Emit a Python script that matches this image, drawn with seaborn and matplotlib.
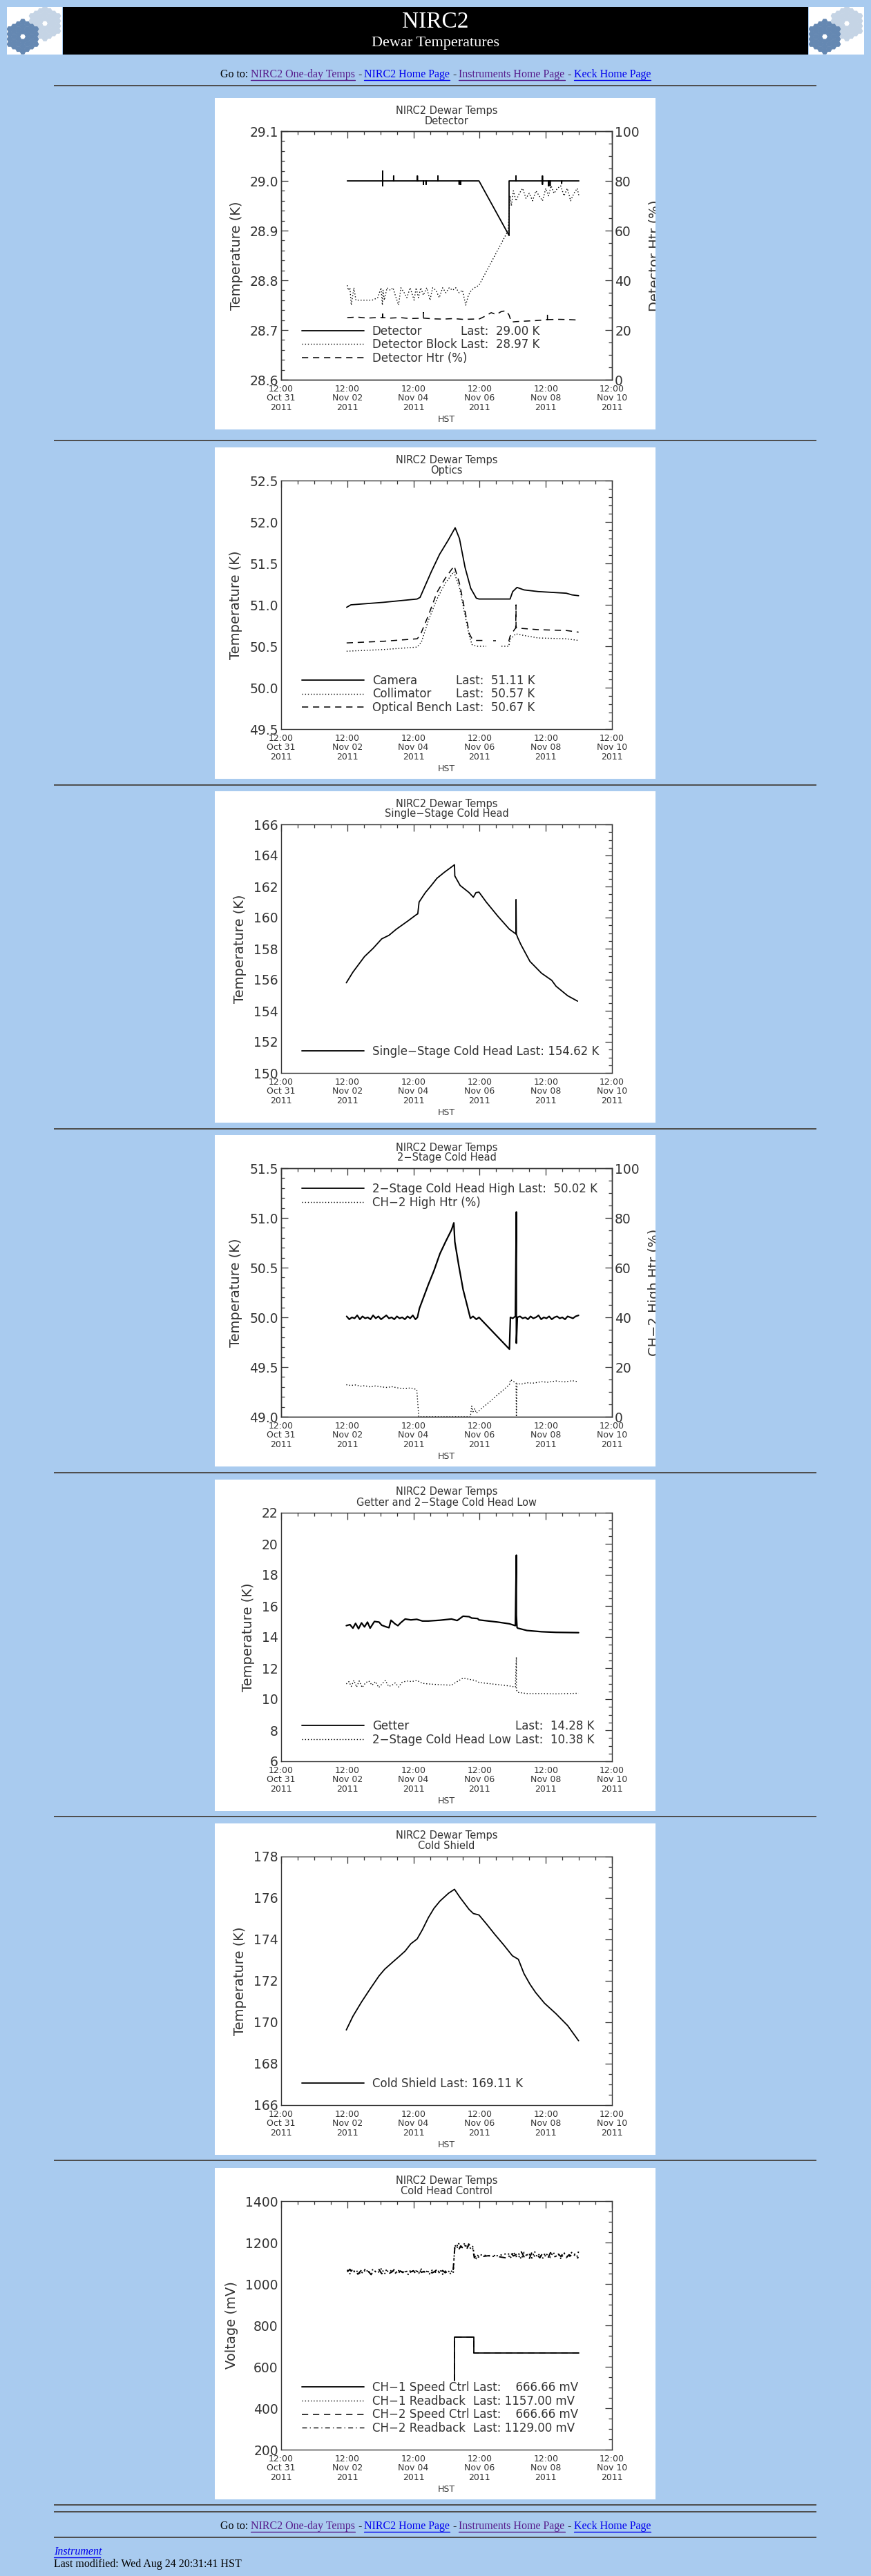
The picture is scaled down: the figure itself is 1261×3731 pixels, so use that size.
# %%
# NIRC2 dewar temperature page - seven weekly trend panels on a web-page layout
import numpy as np
import pandas as pd
import seaborn as sns
import matplotlib.pyplot as plt
from matplotlib.lines import Line2D
from matplotlib.patches import Rectangle, RegularPolygon
from matplotlib.ticker import MultipleLocator, AutoMinorLocator, FormatStrFormatter
from matplotlib.transforms import Bbox, TransformedBbox

sns.set_style('white')
plt.rcParams['font.family'] = ['DejaVu Sans']

W, H, DPI = 1261, 3731, 100
PAGE_BG = '#a9cbef'
INK = '#333333'
VISITED = '#551a8b'
LINK = '#0000ee'
SERIF = 'Liberation Serif'

# %%
# Time axis: days after 12:00 Oct 31 2011 (HST)
t0 = pd.Timestamp('2011-10-31 12:00')
tick_dates = pd.date_range(t0, periods=6, freq='2D')
tick_days = list((tick_dates - t0) / pd.Timedelta(days=1))
tick_labels = [d.strftime('%H:%M\n%b %d\n%Y') for d in tick_dates]

# %%
# Detector panel (K on the left, heater % on the right)
det_t = [2.00, 3.07, 3.07, 3.07, 3.07, 3.40, 3.40, 3.40, 4.12, 4.12, 4.12,
         4.30, 4.30, 4.30, 4.38, 4.38, 4.38, 4.74, 4.74, 4.74,
         5.38, 5.38, 5.38, 5.43, 5.43, 5.43, 5.98, 6.89, 6.89,
         7.10, 7.10, 7.10, 7.90, 7.90, 7.90, 7.90,
         8.08, 8.08, 8.08, 8.13, 8.13, 8.13, 8.48, 8.48, 8.48, 9.00]
det_k = [29.00, 29.00, 29.02, 28.99, 29.00, 29.00, 29.01, 29.00, 29.00, 29.01, 29.00,
         29.00, 28.993, 29.00, 29.00, 28.993, 29.00, 29.00, 29.01, 29.00,
         29.00, 28.993, 29.00, 29.00, 28.993, 29.00, 29.00, 28.89, 29.00,
         29.00, 29.01, 29.00, 29.00, 29.01, 28.993, 29.00,
         29.00, 28.99, 29.00, 29.00, 28.99, 29.00, 29.00, 28.995, 29.00, 29.00]
blk_t = [2.00, 2.03, 2.08, 2.12, 2.20, 2.26, 2.40, 2.60, 2.75, 2.92,
         3.02, 3.06, 3.08, 3.12, 3.20, 3.30, 3.38, 3.45, 3.55, 3.62,
         3.72, 3.80, 3.90, 4.02, 4.08, 4.15, 4.22, 4.30, 4.40, 4.50,
         4.58, 4.68, 4.78, 4.88, 4.98, 5.08, 5.18, 5.28, 5.38, 5.48,
         5.58, 5.66, 5.75, 5.85, 5.98, 6.86, 6.92, 6.96, 7.02, 7.10,
         7.20, 7.30, 7.40, 7.50, 7.60, 7.70, 7.80, 7.90, 8.00, 8.08,
         8.16, 8.25, 8.35, 8.45, 8.55, 8.65, 8.75, 8.85, 8.95, 9.00]
blk_k = [28.79, 28.78, 28.785, 28.75, 28.785, 28.76, 28.76, 28.76, 28.76, 28.765,
         28.785, 28.75, 28.78, 28.76, 28.785, 28.78, 28.785, 28.77, 28.75, 28.785,
         28.775, 28.765, 28.785, 28.76, 28.785, 28.765, 28.785, 28.77, 28.785, 28.76,
         28.785, 28.78, 28.765, 28.785, 28.775, 28.785, 28.78, 28.785, 28.775, 28.78,
         28.75, 28.77, 28.78, 28.785, 28.79, 28.90, 28.97, 28.95, 28.98, 28.96,
         28.975, 28.985, 28.965, 28.975, 28.96, 28.98, 28.97, 28.96, 28.985, 28.97,
         28.99, 28.975, 28.985, 28.99, 28.97, 28.985, 28.96, 28.975, 28.985, 28.97]
dhtr_t = [2.00, 2.30, 2.60, 2.90, 3.07, 3.07, 3.07, 3.30, 3.60, 3.90,
          4.30, 4.30, 4.30, 4.60, 4.90, 5.20, 5.50, 5.80, 6.00, 6.20,
          6.35, 6.50, 6.65, 6.80, 6.89, 6.96, 7.10, 7.40, 7.70, 7.90,
          8.05, 8.05, 8.05, 8.40, 8.70, 9.00]
dhtr_p = [25.0, 25.2, 24.8, 25.0, 25.0, 27.5, 25.0, 24.8, 25.0, 24.6,
          24.8, 27.0, 24.8, 24.5, 24.4, 24.6, 24.3, 24.4, 24.5, 25.8,
          27.0, 26.2, 27.4, 27.8, 26.0, 23.2, 23.4, 23.6, 23.8, 24.0,
          24.2, 26.2, 24.2, 24.3, 24.2, 24.0]

# Optics panel
cam_t = [1.98, 2.11, 3.09, 4.11, 4.20, 4.32, 4.54, 4.79, 5.05, 5.26,
         5.39, 5.56, 5.73, 5.90, 5.98, 6.92, 7.00, 7.13, 7.34, 7.77,
         8.62, 8.79, 8.99]
cam_k = [50.97, 51.00, 51.03, 51.07, 51.09, 51.20, 51.40, 51.61, 51.78, 51.93,
         51.80, 51.45, 51.20, 51.08, 51.07, 51.07, 51.16, 51.21, 51.18, 51.16,
         51.14, 51.12, 51.11]
col_t = [1.98, 3.09, 4.11, 4.24, 4.45, 4.71, 4.96, 5.22, 5.39, 5.56,
         5.69, 5.77, 5.90, 6.20, 6.66, 6.88, 6.92, 7.09, 7.34, 7.77,
         8.62, 8.99]
col_k = [50.44, 50.46, 50.49, 50.55, 50.81, 51.07, 51.26, 51.40, 51.21, 50.87,
         50.62, 50.52, 50.50, 50.50, 50.50, 50.50, 50.58, 50.65, 50.63, 50.60,
         50.59, 50.57]
col_seg = [0] * 14 + [1] * 8
ben_t = [1.98, 3.09, 4.11, 4.20, 4.45, 4.71, 4.96, 5.23, 5.39, 5.56,
         5.69, 5.77, 5.90, 6.20, 6.41, 6.49, 6.88, 6.92, 7.05, 7.09,
         7.10, 7.10, 7.12, 7.77, 8.62, 8.99]
ben_k = [50.54, 50.56, 50.59, 50.63, 50.87, 51.15, 51.32, 51.47, 51.26, 50.92,
         50.65, 50.59, 50.57, 50.57, 50.57, 50.57, 50.56, 50.62, 50.70, 50.72,
         51.00, 50.74, 50.72, 50.70, 50.69, 50.67]
ben_seg = [0] * 14 + [1] * 2 + [2] * 10

# Single-stage cold head
ss_t = [1.97, 2.17, 2.52, 2.78, 3.04, 3.26, 3.48, 3.83, 4.10, 4.13,
        4.17, 4.36, 4.54, 4.71, 4.93, 5.24, 5.25, 5.41, 5.68, 5.81,
        5.89, 5.98, 6.20, 6.55, 6.90, 7.10, 7.10, 7.11, 7.15, 7.25,
        7.52, 7.87, 8.18, 8.31, 8.66, 8.96]
ss_k = [155.80, 156.49, 157.49, 158.02, 158.63, 158.86, 159.25, 159.78, 160.21, 160.24,
        161.00, 161.61, 162.07, 162.53, 162.91, 163.40, 162.68, 162.07, 161.61, 161.31,
        161.61, 161.64, 161.00, 160.09, 159.25, 158.94, 161.16, 158.94, 158.71, 158.25,
        157.18, 156.42, 155.96, 155.58, 154.97, 154.62]

# 2-stage cold head high (K) and its heater (%)
hi_t = [1.98, 2.06, 2.14, 2.22, 2.30, 2.38, 2.46, 2.54, 2.62, 2.70,
        2.78, 2.86, 2.94, 3.02, 3.10, 3.18, 3.26, 3.34, 3.42, 3.50,
        3.58, 3.66, 3.74, 3.82, 3.90, 3.98, 4.06, 4.12,
        4.18, 4.27, 4.45, 4.62, 4.80, 4.97, 5.15, 5.22, 5.25, 5.37,
        5.50, 5.63, 5.72, 5.80, 5.90, 5.98, 6.90, 6.93,
        7.00, 7.08, 7.11, 7.11, 7.14, 7.22, 7.30, 7.38, 7.46, 7.54,
        7.62, 7.70, 7.78, 7.86, 7.94, 8.02, 8.10, 8.18, 8.26, 8.34,
        8.42, 8.50, 8.58, 8.66, 8.74, 8.82, 8.90, 8.99]
hi_k = [50.01, 49.98, 50.00, 49.99, 50.02, 49.98, 50.01, 49.99, 50.00, 49.98,
        50.02, 49.99, 50.01, 49.98, 50.00, 50.02, 49.99, 50.00, 49.98, 50.01,
        49.99, 50.00, 49.98, 50.01, 49.99, 50.02, 49.98, 50.00,
        50.09, 50.17, 50.33, 50.47, 50.64, 50.76, 50.88, 50.95, 50.76, 50.52,
        50.28, 50.11, 49.99, 50.01, 49.98, 50.00, 49.68, 50.00,
        49.99, 50.01, 51.06, 49.74, 50.00, 50.01, 49.99, 50.00, 49.98, 50.01,
        49.99, 50.00, 50.02, 49.98, 50.00, 49.99, 50.01, 49.98, 50.00, 50.01,
        49.99, 50.00, 49.98, 50.01, 50.00, 49.99, 50.01, 50.02]
ch2h_t = [1.97, 2.10, 2.25, 2.40, 2.52, 2.70, 2.85, 3.04, 3.20, 3.35,
          3.57, 3.75, 3.90, 4.10, 4.16, 5.72, 5.76, 5.80, 5.85, 5.90,
          5.98, 6.90, 6.93, 7.10, 7.11, 7.13, 7.25, 7.43, 7.60, 7.87,
          8.05, 8.31, 8.55, 8.80, 8.99]
ch2h_p = [12.9, 12.6, 12.8, 12.3, 12.5, 12.0, 12.4, 12.0, 11.8, 12.1,
          11.5, 11.3, 11.6, 11.0, 0.0, 0.0, 4.3, 2.0, 3.2, 1.5,
          2.4, 12.9, 14.9, 13.6, 0.0, 13.4, 13.1, 13.7, 13.5, 14.1,
          13.9, 14.4, 14.0, 14.5, 14.1]

# Getter and 2-stage cold head low
get_t = [1.97, 2.08, 2.17, 2.25, 2.34, 2.43, 2.52, 2.61, 2.69, 2.82,
         2.96, 3.04, 3.18, 3.26, 3.32, 3.44, 3.53, 3.61, 3.75, 3.92,
         4.10, 4.27, 4.45, 4.80, 5.15, 5.32, 5.50, 5.68, 5.76, 5.94,
         5.98, 6.55, 6.90, 7.08, 7.11, 7.11, 7.13, 7.15, 7.43, 7.87,
         8.31, 8.99]
get_k = [14.73, 14.80, 14.57, 14.88, 14.53, 14.91, 14.65, 14.96, 14.57, 15.00,
         14.96, 14.76, 14.65, 14.60, 15.08, 14.85, 14.73, 14.91, 15.16, 15.10,
         15.14, 15.03, 15.03, 15.08, 15.16, 15.06, 15.34, 15.31, 15.22, 15.19,
         15.10, 14.96, 14.85, 14.73, 19.27, 15.40, 14.62, 14.57, 14.42, 14.34,
         14.30, 14.28]
low_t = [1.97, 2.05, 2.12, 2.20, 2.28, 2.36, 2.45, 2.55, 2.65, 2.75,
         2.85, 2.95, 3.05, 3.15, 3.25, 3.35, 3.45, 3.55, 3.65, 3.80,
         3.95, 4.10, 4.27, 4.45, 4.80, 5.15, 5.32, 5.50, 5.68, 5.85,
         5.98, 6.20, 6.50, 6.90, 7.08, 7.11, 7.11, 7.15, 7.43, 7.87,
         8.31, 8.99]
low_k = [10.98, 11.13, 10.82, 11.21, 10.78, 11.17, 10.75, 11.05, 11.17, 10.90,
         11.13, 10.75, 10.98, 11.21, 10.82, 10.90, 11.05, 10.78, 11.08, 11.17,
         11.13, 11.21, 11.02, 10.98, 10.93, 10.90, 11.13, 11.36, 11.28, 11.21,
         11.08, 11.02, 10.95, 10.85, 10.78, 12.71, 10.60, 10.44, 10.36, 10.36,
         10.34, 10.38]

# Cold shield
cs_t = [1.97, 2.17, 2.43, 2.69, 2.96, 3.13, 3.39, 3.57, 3.75, 3.92,
        4.11, 4.27, 4.45, 4.62, 4.80, 5.06, 5.24, 5.41, 5.68, 5.81,
        5.98, 6.20, 6.46, 6.73, 6.99, 7.17, 7.34, 7.52, 7.69, 7.96,
        8.31, 8.66, 8.99]
cs_k = [169.63, 170.29, 170.98, 171.61, 172.24, 172.56, 172.93, 173.18, 173.44, 173.79,
        174.02, 174.47, 175.05, 175.50, 175.85, 176.23, 176.42, 176.02, 175.45, 175.25,
        175.18, 174.76, 174.24, 173.73, 173.21, 173.04, 172.35, 171.84, 171.44, 170.92,
        170.41, 169.84, 169.11]

# Cold head control (mV)
spd_t = [5.24, 5.24, 5.83, 5.83, 8.99]
spd_mv = [533, 745, 745, 666.66, 666.66]
rb_t = [2.00, 2.08, 2.16, 2.24, 2.32, 2.40, 2.48, 2.56, 2.64, 2.72,
        2.80, 2.88, 2.96, 3.04, 3.12, 3.20, 3.28, 3.36, 3.44, 3.52,
        3.60, 3.68, 3.76, 3.84, 3.92, 4.00, 4.08, 4.16, 4.24, 4.32,
        4.40, 4.48, 4.56, 4.64, 4.72, 4.80, 4.88, 4.96, 5.04, 5.12,
        5.20, 5.25, 5.31, 5.37, 5.43, 5.49, 5.55, 5.61, 5.67, 5.73,
        5.79, 5.84, 5.90, 5.96, 6.40, 6.60, 6.86, 6.94, 7.02, 7.10,
        7.18, 7.26, 7.34, 7.42, 7.50, 7.58, 7.66, 7.74, 7.82, 7.90,
        7.98, 8.06, 8.14, 8.22, 8.30, 8.38, 8.46, 8.54, 8.62, 8.70,
        8.78, 8.86, 8.94, 8.99]
rb1_mv = [1068, 1049, 1072, 1055, 1064, 1046, 1061, 1074, 1052, 1066,
          1070, 1053, 1059, 1076, 1048, 1063, 1057, 1071, 1050, 1062,
          1067, 1054, 1060, 1046, 1069, 1058, 1063, 1051, 1072, 1055,
          1061, 1048, 1066, 1059, 1053, 1070, 1047, 1062, 1056, 1068,
          1051, 1188, 1172, 1195, 1168, 1183, 1197, 1175, 1186, 1170,
          1181, 1138, 1122, 1142, 1133, 1138, 1148, 1128, 1155, 1132,
          1146, 1120, 1152, 1136, 1143, 1125, 1157, 1131, 1147, 1122,
          1150, 1138, 1128, 1154, 1133, 1145, 1121, 1149, 1137, 1126,
          1152, 1140, 1130, 1157]
rb2_mv = [1058, 1071, 1050, 1065, 1047, 1062, 1073, 1054, 1060, 1045,
          1066, 1057, 1070, 1049, 1061, 1068, 1052, 1059, 1074, 1046,
          1063, 1055, 1069, 1050, 1058, 1064, 1047, 1072, 1056, 1061,
          1049, 1067, 1053, 1060, 1071, 1048, 1065, 1054, 1062, 1050,
          1066, 1176, 1191, 1166, 1184, 1173, 1188, 1167, 1193, 1179,
          1171, 1126, 1141, 1130, 1139, 1131, 1124, 1150, 1135, 1142,
          1127, 1155, 1131, 1146, 1121, 1153, 1134, 1140, 1126, 1148,
          1136, 1123, 1151, 1139, 1129, 1144, 1132, 1156, 1127, 1141,
          1135, 1147, 1124, 1129]

# %%
# Line styles that mimic the IDL plot
LS = {'solid': '-', 'dot': (0, (1, 2)), 'dash': (0, (6, 4.5)), 'dashdot': (0, (5, 3, 1, 3))}
LW = {'solid': 1.3, 'dot': 1.0, 'dash': 1.1, 'dashdot': 1.0}
LEG_FS = 12
HANDLE_LEN, HANDLE_PAD = 5.4, 0.7
PANEL_X, PANEL_W, PANEL_H = 311, 638, 480
AX_X, AX_W, AX_H = 407, 479, 360

fig = plt.figure(figsize=(W / DPI, H / DPI), dpi=DPI, facecolor=PAGE_BG)


def box(x, y, w, h, **kw):
    fig.add_artist(Rectangle((x / W, 1 - (y + h) / H), w / W, h / H,
                             transform=fig.transFigure, zorder=-5, lw=0, **kw))


def hr(y):
    box(78, y - 1, 1104, 2, color='#4f4f4f')


def mirror(lax, cx, cy, color, r=4.2):
    # Keck primary: 36 hexagonal segments round an empty centre
    for q in range(-3, 4):
        for s in range(-3, 4):
            if abs(q + s) > 3 or (q == 0 and s == 0):
                continue
            x = cx + r * 1.5 * q
            y = cy + r * np.sqrt(3) * (s + q / 2)
            lax.add_patch(RegularPolygon((x, y), 6, radius=r * 0.88,
                                         orientation=np.pi / 6, color=color))


def logo(x0, y0, w=80, h=69):
    lax = fig.add_axes([x0 / W, 1 - (y0 + h) / H, w / W, h / H])
    lax.set_xlim(0, w)
    lax.set_ylim(h, 0)
    lax.axis('off')
    lax.add_patch(Rectangle((0, 0), w, h, color='white'))
    mirror(lax, 55, 24, '#c5d4e5')
    mirror(lax, 23, 43, '#6588b2')


def link_row(y, size=11.5):
    pieces = [('Go to:', 'black'), ('NIRC2 One-day Temps', VISITED), ('-', 'black'),
              ('NIRC2 Home Page', LINK), ('-', 'black'),
              ('Instruments Home Page', VISITED), ('-', 'black'), ('Keck Home Page', LINK)]
    r = fig.canvas.get_renderer()
    texts = [fig.text(0, 1 - y / H, s, color=c, fontsize=size, family=SERIF, va='center')
             for s, c in pieces]
    widths = [t.get_window_extent(r).width for t in texts]
    space = size * DPI / 72 * 0.25
    x = W / 2 - (sum(widths) + space * (len(widths) - 1)) / 2
    for t, w, (s, c) in zip(texts, widths, pieces):
        t.set_x(x / W)
        if c != 'black':
            fig.add_artist(Line2D([x / W, (x + w) / W], [1 - (y + 8) / H] * 2,
                                  color=c, lw=1, transform=fig.transFigure))
        x += w + space


def trace(ax, days, vals, style, seg=0, lw=None):
    df = pd.DataFrame({'day': days, 'val': vals, 'seg': seg})
    sns.lineplot(data=df, x='day', y='val', units='seg', estimator=None, sort=False,
                 ax=ax, color='black', linestyle=LS[style], linewidth=lw or LW[style])


def style_axis(ax, ylim, step, minor, fmt):
    ax.set_ylim(*ylim)
    ax.yaxis.set_major_locator(MultipleLocator(step))
    ax.yaxis.set_minor_locator(AutoMinorLocator(minor))
    ax.yaxis.set_major_formatter(FormatStrFormatter(fmt))
    ax.tick_params(which='both', direction='in', color=INK, labelcolor=INK, width=0.9)
    ax.tick_params(which='major', length=7)
    ax.tick_params(which='minor', length=3.5)
    ax.tick_params(axis='y', labelsize=13.5, pad=3)
    for sp in ax.spines.values():
        sp.set_color(INK)
        sp.set_linewidth(1.0)


def panel(top, subtitle, ylim, step, minor, fmt):
    box(PANEL_X, top, PANEL_W, PANEL_H, color='white')
    ax = fig.add_axes([AX_X / W, 1 - (top + 48 + AX_H) / H, AX_W / W, AX_H / H])
    ax.set_facecolor('white')
    style_axis(ax, ylim, step, minor, fmt)
    ax.set_xlim(0, 10)
    ax.set_xticks(tick_days, tick_labels)
    ax.xaxis.set_minor_locator(MultipleLocator(0.5))
    ax.tick_params(which='both', top=True, right=True)
    ax.tick_params(axis='x', labelsize=9, pad=5)
    for lab in ax.get_xticklabels():
        lab.set_linespacing(1.05)
    ax.text(0.5, 1 + 30 / AX_H, 'NIRC2 Dewar Temps', transform=ax.transAxes,
            ha='center', va='center', fontsize=10.5, color=INK)
    ax.text(0.5, 1 + 15 / AX_H, subtitle, transform=ax.transAxes,
            ha='center', va='center', fontsize=10.5, color=INK)
    return ax


def finish(ax, ylabel):
    ax.set_xlim(0, 10)
    ax.set_xlabel('HST', fontsize=9, color=INK, labelpad=3)
    ax.set_ylabel(ylabel, fontsize=14, color=INK, labelpad=7)


def finish_right(tw, top, label):
    style_axis(tw, (0, 100), 20, 4, '%d')
    tw.tick_params(which='both', left=False, right=True, labelright=True)
    tw.set_ylabel(label, fontsize=14, color=INK, labelpad=9)
    # the page crops this label at the panel's right edge
    tw.yaxis.label.set_clip_on(True)
    clip = Bbox.from_extents(PANEL_X / W, 1 - (top + PANEL_H) / H,
                             (PANEL_X + PANEL_W) / W, 1 - top / H)
    tw.yaxis.label.set_clip_box(TransformedBbox(clip, fig.transFigure))
    tw.set_xlabel('')


def legend(ax, styles, names, lasts=None, upper=False):
    handles = [Line2D([], [], color='black', ls=LS[s], lw=LW[s]) for s in styles]
    kw = dict(loc='upper left' if upper else 'lower left',
              bbox_to_anchor=(30 / AX_W, 1 - 21 / AX_H) if upper else (30 / AX_W, 22 / AX_H),
              frameon=False, fontsize=LEG_FS, handlelength=HANDLE_LEN,
              handletextpad=HANDLE_PAD, labelspacing=0.1, borderpad=0,
              borderaxespad=0, labelcolor=INK)
    if lasts is None:
        return ax.legend(handles, names, **kw)
    # second column holds the "Last:" readings, pulled in next to the names that own one
    blanks = [Line2D([], [], ls='none') for _ in names]
    leg = ax.legend(handles + blanks, names + lasts, ncol=2, columnspacing=0, **kw)
    r = fig.canvas.get_renderer()
    widths = [t.get_window_extent(r).width for t in leg.get_texts()[:len(names)]]
    used = max(w for w, l in zip(widths, lasts) if l)
    em = LEG_FS * DPI / 72
    gap = (used - max(widths)) / em - HANDLE_LEN - HANDLE_PAD + 0.35
    return ax.legend(handles + blanks, names + lasts, ncol=2, columnspacing=gap, **kw)


# %%
# Page header and rules
box(91, 10, 1079, 69, color='black')
fig.text(630.5 / W, 1 - 32 / H, 'NIRC2', color='white', family=SERIF, fontsize=24,
         ha='center', va='center')
fig.text(630.5 / W, 1 - 62 / H, 'Dewar Temperatures', color='white', family=SERIF,
         fontsize=16, ha='center', va='center')
logo(10, 10)
logo(1171, 10)
link_row(108)
for y in [124, 638, 1137, 1635, 2133, 2631, 3129, 3628, 3638, 3675]:
    hr(y)

# %%
# Panel 1: Detector
top = 142
ax = panel(top, 'Detector', (28.6, 29.1), 0.1, 5, '%.1f')
tw = ax.twinx()
trace(ax, det_t, det_k, 'solid')
trace(ax, blk_t, blk_k, 'dot')
trace(tw, dhtr_t, dhtr_p, 'dash')
finish(ax, 'Temperature (K)')
finish_right(tw, top, 'Detector Htr (%)')
ax.tick_params(which='both', right=False)
legend(ax, ['solid', 'dot', 'dash'], ['Detector', 'Detector Block', 'Detector Htr (%)'],
       ['Last:  29.00 K', 'Last:  28.97 K', ''])

# Panel 2: Optics
ax = panel(648, 'Optics', (49.5, 52.5), 0.5, 5, '%.1f')
trace(ax, cam_t, cam_k, 'solid')
trace(ax, col_t, col_k, 'dot', col_seg)
trace(ax, ben_t, ben_k, 'dash', ben_seg)
finish(ax, 'Temperature (K)')
legend(ax, ['solid', 'dot', 'dash'], ['Camera', 'Collimator', 'Optical Bench'],
       ['Last:  51.11 K', 'Last:  50.57 K', 'Last:  50.67 K'])

# Panel 3: Single-stage cold head
ax = panel(1146, 'Single\u2212Stage Cold Head', (150, 166), 2, 4, '%d')
trace(ax, ss_t, ss_k, 'solid')
finish(ax, 'Temperature (K)')
legend(ax, ['solid'], ['Single\u2212Stage Cold Head Last: 154.62 K'])

# Panel 4: 2-stage cold head
top = 1644
ax = panel(top, '2\u2212Stage Cold Head', (49.0, 51.5), 0.5, 5, '%.1f')
tw = ax.twinx()
trace(ax, hi_t, hi_k, 'solid', lw=1.6)
trace(tw, ch2h_t, ch2h_p, 'dot')
finish(ax, 'Temperature (K)')
finish_right(tw, top, 'CH\u22122 High Htr (%)')
ax.tick_params(which='both', right=False)
legend(ax, ['solid', 'dot'], ['2\u2212Stage Cold Head High Last:  50.02 K',
                              'CH\u22122 High Htr (%)'], upper=True)

# Panel 5: Getter and 2-stage cold head low
ax = panel(2143, 'Getter and 2\u2212Stage Cold Head Low', (6, 22), 2, 4, '%d')
trace(ax, get_t, get_k, 'solid', lw=1.6)
trace(ax, low_t, low_k, 'dot')
finish(ax, 'Temperature (K)')
legend(ax, ['solid', 'dot'], ['Getter', '2\u2212Stage Cold Head Low'],
       ['Last:  14.28 K', 'Last:  10.38 K'])

# Panel 6: Cold shield
ax = panel(2641, 'Cold Shield', (166, 178), 2, 4, '%d')
trace(ax, cs_t, cs_k, 'solid')
finish(ax, 'Temperature (K)')
legend(ax, ['solid'], ['Cold Shield Last: 169.11 K'])

# Panel 7: Cold head control
ax = panel(3140, 'Cold Head Control', (200, 1400), 200, 4, '%d')
trace(ax, spd_t, spd_mv, 'solid')
trace(ax, rb_t, rb1_mv, 'dot', lw=1.4)
trace(ax, spd_t, spd_mv, 'dash')
trace(ax, rb_t, rb2_mv, 'dashdot', lw=1.4)
finish(ax, 'Voltage (mV)')
legend(ax, ['solid', 'dot', 'dash', 'dashdot'],
       ['CH\u22121 Speed Ctrl', 'CH\u22121 Readback', 'CH\u22122 Speed Ctrl', 'CH\u22122 Readback'],
       ['Last:  \u2007666.66 mV', 'Last: 1157.00 mV', 'Last:  \u2007666.66 mV', 'Last: 1129.00 mV'])

# %%
# Footer
link_row(3659)
fig.text(78 / W, 1 - 3696 / H, 'Instrument', color=LINK, family=SERIF, style='italic',
         fontsize=11.5, va='center')
fig.add_artist(Line2D([78 / W, 145 / W], [1 - 3704 / H] * 2, color=LINK, lw=1,
                      transform=fig.transFigure))
fig.text(78 / W, 1 - 3714 / H, 'Last modified: Wed Aug 24 20:31:41 HST', color='black',
         family=SERIF, fontsize=11.5, va='center')

fig.savefig('out.png', dpi=DPI, facecolor=PAGE_BG)
